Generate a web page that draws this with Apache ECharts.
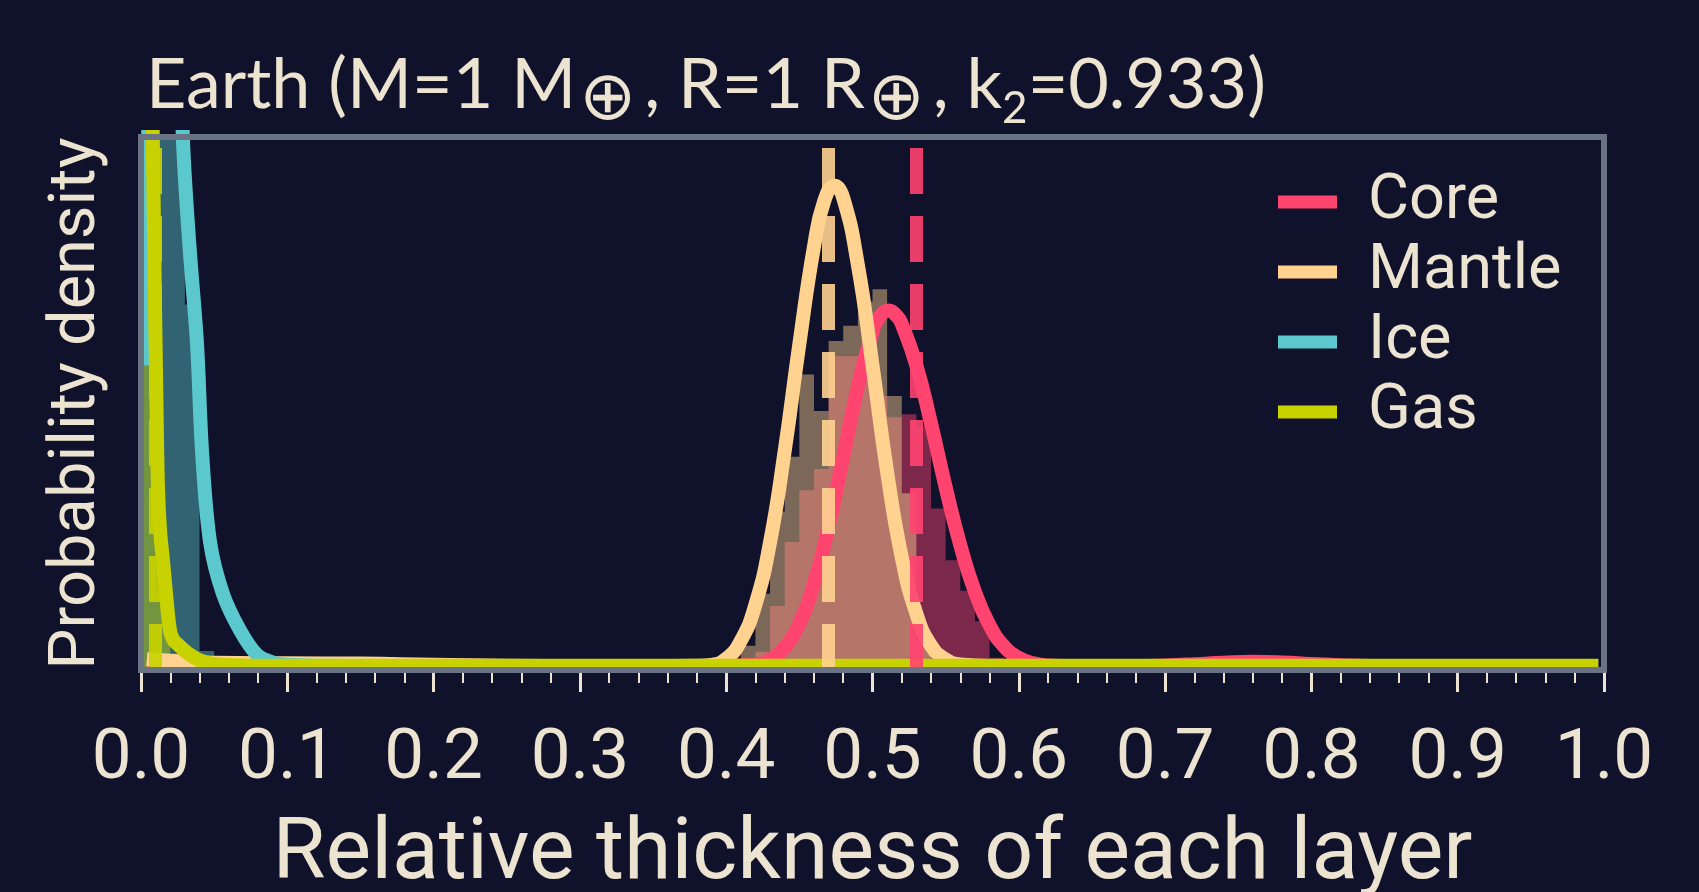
<!DOCTYPE html>
<html>
<head>
<meta charset="utf-8">
<script src="https://cdn.jsdelivr.net/npm/echarts@6/dist/echarts.min.js"></script>
<style>
  html, body { margin: 0; padding: 0; background: #10112b; }
  #chart { width: 1699px; height: 892px; }
</style>
</head>
<body>
<div id="chart"></div>
<script>
// ---------------- data ----------------
const layers = ['Core', 'Mantle', 'Ice', 'Gas'];
const xTickLabels = ['0.0','0.1','0.2','0.3','0.4','0.5','0.6','0.7','0.8','0.9','1.0'];

const histBinWidth = 0.01;
const coreHistStart = 0.41;
const coreHistDensity = [0.2, 0.6, 2.1, 4.2, 5.9, 6.6, 10.3, 10.3, 10.3, 9.0, 8.3, 8.4, 8.0, 5.3, 3.6, 2.6, 1.6, 0.4, 0.1];
const mantleHistStart = 0.39;
const mantleHistDensity = [0.1, 0.3, 0.8, 2.5, 5.2, 7.0, 9.7, 8.5, 10.8, 11.3, 12.1, 12.5, 9.0, 5.8, 1.0, 0.2];
const iceHistStart = 0.0;
const iceHistDensity = [22, 40, 30, 12, 0.62, 0.26];
const gasHistStart = 0.0;
const gasHistDensity = [70, 2.6, 0.35];

const coreCurve = [[0.004,0.13],[0.1,0.13],[0.2,0.13],[0.3,0.13],[0.38,0.13],[0.40,0.14],[0.42,0.18],[0.43,0.34],[0.44,0.74],[0.45,1.53],[0.46,2.84],[0.47,4.72],[0.48,7.0],[0.49,9.3],[0.50,11.1],[0.505,11.6],[0.511,11.8],[0.517,11.6],[0.52,11.36],[0.53,10.0],[0.54,8.1],[0.55,6.0],[0.56,4.1],[0.57,2.57],[0.58,1.47],[0.59,0.77],[0.60,0.4],[0.61,0.22],[0.62,0.15],[0.64,0.13],[0.68,0.13],[0.70,0.15],[0.72,0.19],[0.74,0.24],[0.76,0.27],[0.78,0.25],[0.80,0.2],[0.82,0.16],[0.84,0.13],[0.87,0.13],[0.996,0.13]];
const mantleCurve = [[0.004,0.35],[0.02,0.3],[0.05,0.24],[0.1,0.22],[0.15,0.21],[0.2,0.17],[0.25,0.14],[0.3,0.13],[0.35,0.13],[0.38,0.14],[0.39,0.17],[0.40,0.37],[0.41,0.96],[0.42,2.15],[0.43,4.2],[0.44,7.2],[0.45,10.7],[0.46,13.9],[0.467,15.4],[0.474,15.9],[0.48,15.5],[0.49,13.3],[0.50,10.0],[0.51,6.5],[0.52,3.7],[0.53,1.85],[0.54,0.8],[0.55,0.35],[0.56,0.18],[0.58,0.13],[0.7,0.13],[0.996,0.13]];
const iceCurve = [[0.003,10],[0.006,22],[0.01,40],[0.015,46],[0.021,34],[0.025,24],[0.0287,17.4],[0.033,14],[0.0383,10.7],[0.0417,7.2],[0.0472,4.2],[0.056,2.5],[0.0677,1.3],[0.0793,0.5],[0.09,0.25],[0.1,0.17],[0.12,0.14],[0.2,0.13],[0.5,0.13],[0.996,0.13]];
const gasCurve = [[0.002,60],[0.004,40],[0.007,22],[0.009,14],[0.0105,9],[0.0116,6.0],[0.013,4.6],[0.015,3.6],[0.0175,2.3],[0.0198,1.3],[0.022,1.0],[0.026,0.8],[0.032,0.55],[0.04,0.32],[0.05,0.2],[0.07,0.15],[0.1,0.14],[0.3,0.14],[0.6,0.14],[0.996,0.14]];

const medianCore = 0.534;
const medianMantle = 0.466;
const medianGas = 0.006;

const yMax = 17.5;

// ---------------- style ----------------
const BG = '#10112b';
const CREAM = '#ece4d0';
const FRAME = '#6a7383';
const COLORS = { Core: '#ff4470', Mantle: '#ffd290', Ice: '#5ac8cd', Gas: '#c8d200' };

function histData(start, dens) {
  const pts = dens.map((h, i) => [start + i * histBinWidth, h]);
  pts.push([start + dens.length * histBinWidth, 0]);
  return pts;
}
function histSeries(name, start, dens, color) {
  return {
    name: name + ' hist', type: 'line', step: 'end', data: histData(start, dens),
    symbol: 'none', silent: true, z: 1,
    lineStyle: { width: 0, opacity: 0 },
    areaStyle: { color: color, opacity: 0.45 }
  };
}
function curveSeries(name, data, smooth) {
  return {
    name: name, type: 'line', data: data, symbol: 'none', silent: true, z: 3,
    smooth: smooth,
    lineStyle: { width: 14, color: COLORS[name], cap: 'butt', join: 'round' },
    itemStyle: { color: COLORS[name] }
  };
}
const frameAxisLine = { show: true, onZero: false, lineStyle: { color: FRAME, width: 6 } };
const hidden = { show: false };

const chart = echarts.init(document.getElementById('chart'));
chart.setOption({
  animation: false,
  backgroundColor: BG,
  title: {
    text: '{t|Earth (M=1 M}{o|⊕}{t|, R=1 R}{o|⊕}{t|, k}{s|2}{t|=0.933)}',
    left: 141, top: 18,
    textStyle: {
      fontWeight: 'normal',
      rich: {
        t: { fontFamily: 'Lato', fontWeight: 'normal', fontSize: 70, color: CREAM, lineHeight: 124 },
        s: { fontFamily: 'Lato', fontWeight: 'normal', fontSize: 44, color: CREAM, lineHeight: 76, verticalAlign: 'bottom', padding: [0, 0, 16, 0] },
        o: { fontFamily: 'DejaVu Sans', fontWeight: 'normal', fontSize: 68, color: CREAM, lineHeight: 84, verticalAlign: 'bottom', padding: [0, 8, 12, 3] }
      }
    }
  },
  legend: {
    data: layers.map(n => ({ name: n, itemStyle: { color: COLORS[n] } })),
    orient: 'vertical', left: 1273, top: 162,
    icon: 'rect', itemWidth: 59, itemHeight: 13, itemGap: 0,
    textStyle: { fontFamily: 'Roboto', fontSize: 63, color: CREAM, lineHeight: 70, padding: [0, 0, 0, 26] }
  },
  grid: {
    left: 141, right: 95, top: 137, bottom: 222,
    outerBoundsMode: 'none', containLabel: false,
    show: true, backgroundColor: BG, borderColor: FRAME, borderWidth: 6
  },
  xAxis: [
    {
      type: 'value', min: 0, max: 1, interval: 0.1, position: 'bottom', z: 1,
      axisLine: hidden,
      axisTick: { show: true, length: 22, lineStyle: { color: CREAM, width: 3 } },
      minorTick: { show: true, splitNumber: 5, length: 13, lineStyle: { color: CREAM, width: 2 } },
      splitLine: hidden, minorSplitLine: hidden,
      axisLabel: {
        margin: 55, fontFamily: 'Roboto', fontSize: 71, color: CREAM, lineHeight: 71,
        formatter: v => xTickLabels[Math.round(v * 10)]
      },
      name: 'Relative thickness of each layer', nameLocation: 'middle', nameGap: 142,
      nameTextStyle: { fontFamily: 'Roboto', fontSize: 86, color: CREAM, lineHeight: 88 }
    },
    { type: 'value', min: 0, max: 1, position: 'bottom', z: 5, axisLine: frameAxisLine, axisTick: hidden, axisLabel: hidden, splitLine: hidden },
    { type: 'value', min: 0, max: 1, position: 'top', z: 5, axisLine: frameAxisLine, axisTick: hidden, axisLabel: hidden, splitLine: hidden }
  ],
  yAxis: [
    {
      type: 'value', min: 0, max: yMax, position: 'left', z: 5,
      axisLine: frameAxisLine, axisTick: hidden, axisLabel: hidden, splitLine: hidden,
      name: 'Probability density', nameLocation: 'middle', nameGap: 30, nameRotate: 90,
      nameTextStyle: { fontFamily: 'Roboto', fontSize: 65, color: CREAM, lineHeight: 66 }
    },
    { type: 'value', min: 0, max: yMax, position: 'right', z: 5, axisLine: frameAxisLine, axisTick: hidden, axisLabel: hidden, splitLine: hidden }
  ],
  series: [
    histSeries('Core', coreHistStart, coreHistDensity, COLORS.Core),
    histSeries('Mantle', mantleHistStart, mantleHistDensity, COLORS.Mantle),
    histSeries('Ice', iceHistStart, iceHistDensity, COLORS.Ice),
    histSeries('Gas', gasHistStart, gasHistDensity, COLORS.Gas),
    {
      name: 'medians', type: 'line', data: [], z: 2, silent: true,
      markLine: {
        symbol: 'none', silent: true, label: { show: false },
        lineStyle: { type: [46, 22], width: 13, opacity: 0.9 },
        data: [
          { xAxis: medianCore, lineStyle: { color: COLORS.Core } },
          { xAxis: medianMantle, lineStyle: { color: COLORS.Mantle } },
          { xAxis: medianGas, lineStyle: { color: COLORS.Gas } }
        ]
      }
    },
    curveSeries('Core', coreCurve, 0.5),
    curveSeries('Mantle', mantleCurve, 0.5),
    curveSeries('Ice', iceCurve, 0.35),
    curveSeries('Gas', gasCurve, 0.35)
  ]
});
</script>
</body>
</html>
